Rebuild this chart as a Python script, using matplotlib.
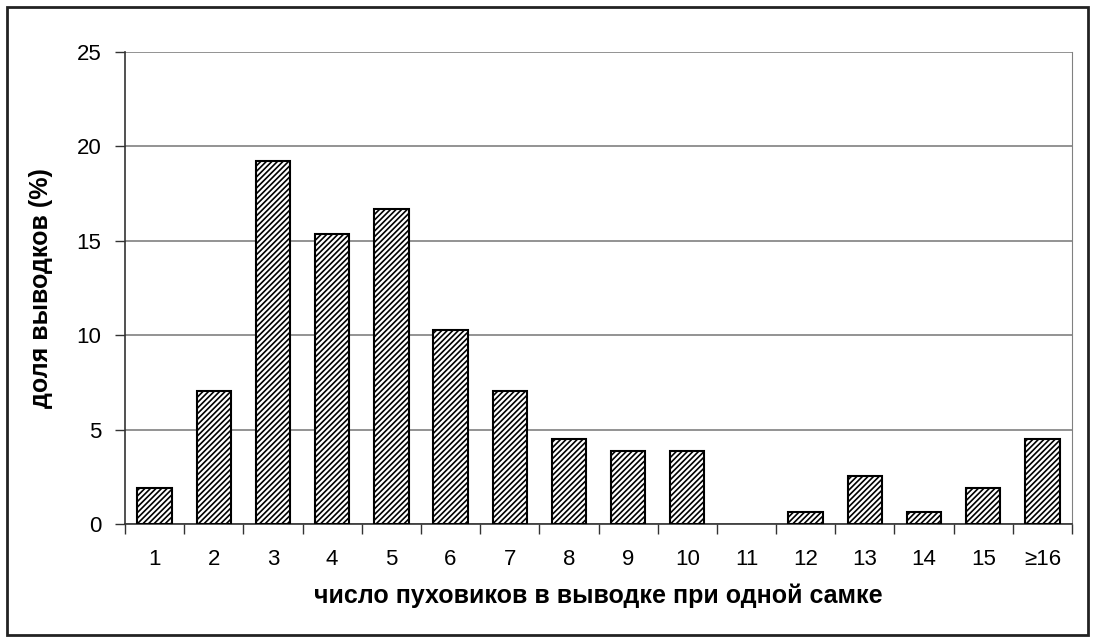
import matplotlib.pyplot as plt
from matplotlib.patches import Rectangle

plt.rcParams['font.family'] = ['Liberation Sans', 'DejaVu Sans']
plt.rcParams['hatch.linewidth'] = 1.2

categories = ['1', '2', '3', '4', '5', '6', '7', '8', '9', '10',
              '11', '12', '13', '14', '15', '≥16']
shares = [1.92, 7.05, 19.23, 15.38, 16.67, 10.26, 7.05, 4.49, 3.85, 3.85,
          0.0, 0.64, 2.56, 0.64, 1.92, 4.49]

fig = plt.figure(figsize=(10.95, 6.41), dpi=100)
ax = fig.add_axes([125 / 1095, 1 - 524 / 641, (1072 - 125) / 1095, (524 - 52) / 641])

# outer frame round the whole chart
fig.patches.append(Rectangle((7 / 1095, 6 / 641), 1081 / 1095, 628 / 641,
                             transform=fig.transFigure, fill=False,
                             edgecolor='#222222', linewidth=2))

x = list(range(len(categories)))
widths = [1.5 if v > 0 else 0 for v in shares]
ax.bar(x, shares, width=0.58, color='white', edgecolor='black',
       linewidth=widths, hatch='//////', zorder=3)

ax.set_xlim(-0.5, len(categories) - 0.5)
ax.set_ylim(0, 25)
ax.set_yticks([0, 5, 10, 15, 20, 25])
ax.yaxis.grid(True, color='#808080', linewidth=1.2, zorder=0)

ax.set_xticks(x)
ax.set_xticklabels(categories)
ax.set_xticks([i - 0.5 for i in range(len(categories) + 1)], minor=True)
ax.tick_params(axis='x', which='major', length=0, pad=18, labelsize=16)
ax.tick_params(axis='x', which='minor', length=7, width=1, color='#333333')
ax.tick_params(axis='y', which='major', length=7, width=1, color='#333333',
               labelsize=16, pad=10)

ax.spines['top'].set_visible(False)
ax.spines['right'].set_color('#808080')
ax.spines['left'].set_color('#333333')
ax.spines['bottom'].set_color('#333333')
ax.spines['left'].set_linewidth(1.2)
ax.spines['bottom'].set_linewidth(1.2)

ax.set_xlabel('число пуховиков в выводке при одной самке', fontsize=18,
              fontweight='bold', labelpad=10)
ax.set_ylabel('доля выводков (%)', fontsize=18, fontweight='bold', labelpad=17)

fig.savefig('out.png', dpi=100)
